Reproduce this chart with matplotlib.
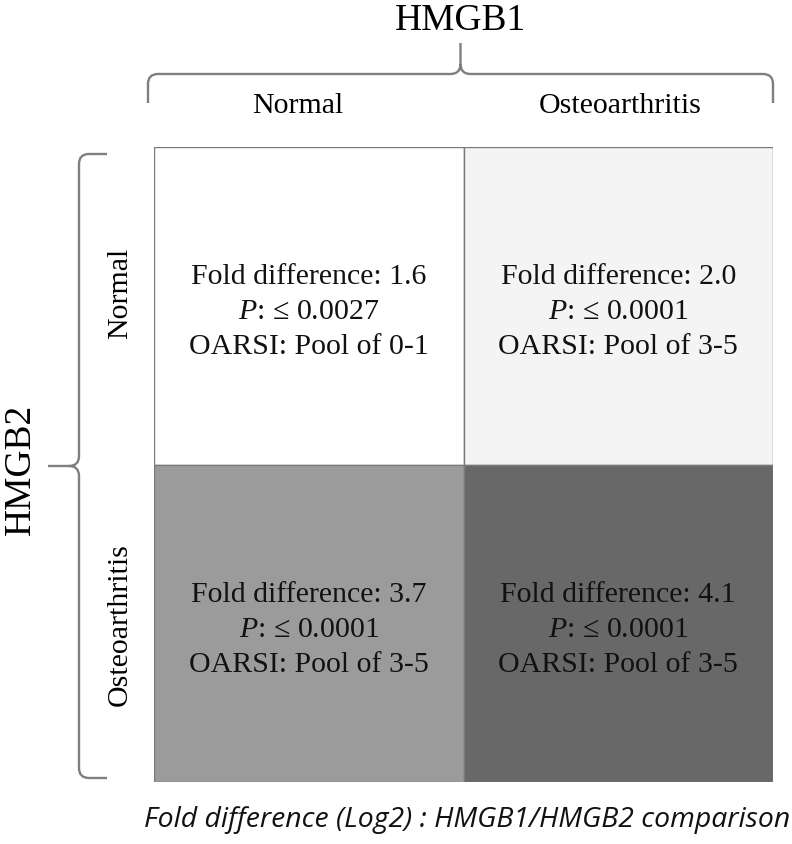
import matplotlib

matplotlib.use("Agg")
import matplotlib.pyplot as plt
from matplotlib.path import Path
from matplotlib.patches import PathPatch, Rectangle

# data
col_labels = ["Normal", "Osteoarthritis"]      # HMGB1
row_labels = ["Normal", "Osteoarthritis"]      # HMGB2
fold_diff = [[1.6, 2.0], [3.7, 4.1]]
p_values = [["0.0027", "0.0001"], ["0.0001", "0.0001"]]
oarsi_pool = [["0-1", "3-5"], ["3-5", "3-5"]]
cell_grays = [["#ffffff", "#f4f4f4"], ["#9b9b9b", "#686868"]]

SERIF = ["Liberation Serif", "DejaVu Serif"]
BRACE_COLOR = "#7f7f7f"
plt.rcParams["mathtext.fontset"] = "custom"
plt.rcParams["mathtext.rm"] = "Liberation Serif"
plt.rcParams["mathtext.it"] = "Liberation Serif:italic"

fig = plt.figure(figsize=(7.92, 8.44), dpi=100)

# overlay in pixel units for labels and braces
ov = fig.add_axes([0, 0, 1, 1])
ov.set_xlim(0, 792)
ov.set_ylim(844, 0)
ov.axis("off")

# grid axes
ax = fig.add_axes([154 / 792, 1 - 782 / 844, 619 / 792, 635 / 844])
ax.set_xlim(0, 2)
ax.set_ylim(2, 0)
ax.axis("off")

for i in range(2):
    for j in range(2):
        ax.add_patch(Rectangle((j, i), 1, 1, facecolor=cell_grays[i][j],
                               edgecolor="#7a7a7a", linewidth=1.0))
        txt = (f"Fold difference: {fold_diff[i][j]:.1f}\n"
               f"$\\mathit{{P}}$: \u2264 {p_values[i][j]}\n"
               f"OARSI: Pool of {oarsi_pool[i][j]}")
        ax.text(j + 0.5, i + 0.52, txt, ha="center", va="center",
                fontsize=21.5, family=SERIF, linespacing=1.45, color="#111111")


def brace_h(x0, x1, y_end, y_line, y_tip, r=10):
    xm = (x0 + x1) / 2
    verts = [(x0, y_end), (x0, y_line + r), (x0, y_line), (x0 + r, y_line),
             (xm - r, y_line), (xm, y_line), (xm, y_line - r), (xm, y_tip),
             (xm, y_line - r), (xm, y_line), (xm + r, y_line),
             (x1 - r, y_line), (x1, y_line), (x1, y_line + r), (x1, y_end)]
    codes = [Path.MOVETO, Path.LINETO, Path.CURVE3, Path.CURVE3,
             Path.LINETO, Path.CURVE3, Path.CURVE3, Path.LINETO,
             Path.MOVETO, Path.CURVE3, Path.CURVE3,
             Path.LINETO, Path.CURVE3, Path.CURVE3, Path.LINETO]
    return Path(verts, codes)


def brace_v(y0, y1, x_end, x_line, x_tip, r=10):
    p = brace_h(y0, y1, x_end, x_line, x_tip, r)
    return Path([(v[1], v[0]) for v in p.vertices], p.codes)


ov.add_patch(PathPatch(brace_h(148, 773, 103, 74, 43), facecolor="none",
                       edgecolor=BRACE_COLOR, linewidth=1.7))
ov.add_patch(PathPatch(brace_v(154, 778, 107, 79, 48), facecolor="none",
                       edgecolor=BRACE_COLOR, linewidth=1.7))

# headings
ov.text(461, 30, "HMGB1", ha="center", va="baseline", fontsize=27,
        family=SERIF)
ov.text(30, 469, "HMGB2", ha="center", va="baseline", fontsize=27,
        family=SERIF, rotation=90, rotation_mode="anchor")
for x, lab in zip([298, 620], col_labels):
    ov.text(x, 113, lab, ha="center", va="baseline", fontsize=21.5,
            family=SERIF)
for y, lab in zip([293, 625], row_labels):
    ov.text(127, y, lab, ha="center", va="baseline", fontsize=21.5,
            family=SERIF, rotation=90, rotation_mode="anchor")

ov.text(467, 827, "Fold difference (Log2) : HMGB1/HMGB2 comparison",
        ha="center", va="baseline", fontsize=20.4, style="italic",
        family=["Open Sans", "DejaVu Sans"], color="#111111")

fig.savefig("out.png", dpi=100)
